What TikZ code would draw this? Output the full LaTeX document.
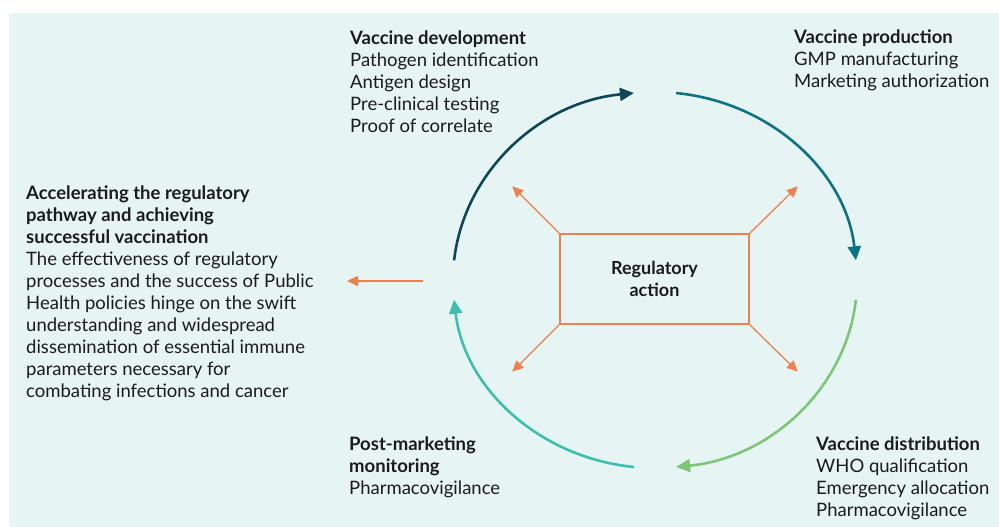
\documentclass[tikz,border=0pt]{standalone}
\usepackage{fontspec}
\setmainfont{Lato}
\usepackage{tikz}
\usetikzlibrary{arrows.meta,positioning,calc}
\definecolor{ink}{HTML}{1B1B1B}
\definecolor{bgc}{HTML}{E6F5F4}
\definecolor{orng}{HTML}{F07F4E}
\definecolor{cdev}{HTML}{0D4656}
\definecolor{cprod}{HTML}{0C7386}
\definecolor{cdist}{HTML}{7CC677}
\definecolor{cmon}{HTML}{3CBFAE}
\tikzset{
  txt/.style={anchor=base west,align=left,inner sep=0pt,text=ink,
    font=\fontsize{18.5}{22}\selectfont},
  regbox/.style={draw=orng,line width=1.5pt,minimum width=189pt,minimum height=90pt,
    align=center,text=ink,font=\bfseries\fontsize{18}{22}\selectfont},
  cyc/.style={line width=2.6pt,-{Triangle[length=14pt,width=13pt]}},
  oflow/.style={-{Triangle[length=11pt,width=10pt]},line width=1.3pt,color=orng}
}

\begin{document}
\begin{tikzpicture}[x=1pt,y=1pt]
  \useasboundingbox (0,0) rectangle (999,-527);
  \fill[bgc] (9,-13) rectangle (999,-527);
  % stage texts around the cycle (anchored on their last line)
  \node[txt] (dev) at (350,-132) {\textbf{Vaccine development}\\Pathogen identification\\Antigen design\\Pre-clinical testing\\Proof of correlate};
  \node[txt] (prod) at (794,-88) {\textbf{Vaccine production}\\GMP manufacturing\\Marketing authorization};
  \node[txt] (dist) at (816,-516) {\textbf{Vaccine distribution}\\WHO qualification\\Emergency allocation\\Pharmacovigilance};
  \node[txt] (mon) at (349,-494) {\textbf{Post-marketing}\\\textbf{monitoring}\\Pharmacovigilance};
  \node[txt] (acc) at (26,-397) {\textbf{Accelerating the regulatory}\\\textbf{pathway and achieving}\\\textbf{successful vaccination}\\The effectiveness of regulatory\\processes and the success of Public\\Health policies hinge on the swift\\understanding and widespread\\dissemination of essential immune\\parameters necessary for\\combating infections and cancer};
  % central box
  \node[regbox] (reg) at (654.5,-279) {Regulatory\\action};
  % cycle arcs, clockwise
  \coordinate (c) at (655,-280);
  \draw[cyc,cdev]  ($(c)+(174:202 and 188)$) arc[start angle=174,end angle=96,x radius=202,y radius=188];
  \draw[cyc,cprod] ($(c)+(84:202 and 188)$) arc[start angle=84,end angle=6,x radius=202,y radius=188];
  \draw[cyc,cdist] ($(c)+(-6:202 and 188)$) arc[start angle=-6,end angle=-84,x radius=202,y radius=188];
  \draw[cyc,cmon]  ($(c)+(-96:202 and 188)$) arc[start angle=-96,end angle=-174,x radius=202,y radius=188];
  % regulatory action spreading outwards
  \draw[oflow] (reg.north west) -- ++(-47,47);
  \draw[oflow] (reg.north east) -- ++(48,47);
  \draw[oflow] (reg.south west) -- ++(-47,-47);
  \draw[oflow] (reg.south east) -- ++(48,-47);
  \coordinate (lin) at (423,-281);
  \coordinate (lout) at (347,-281);
  \draw[oflow] (lin) -- (lout);
\end{tikzpicture}
\end{document}
